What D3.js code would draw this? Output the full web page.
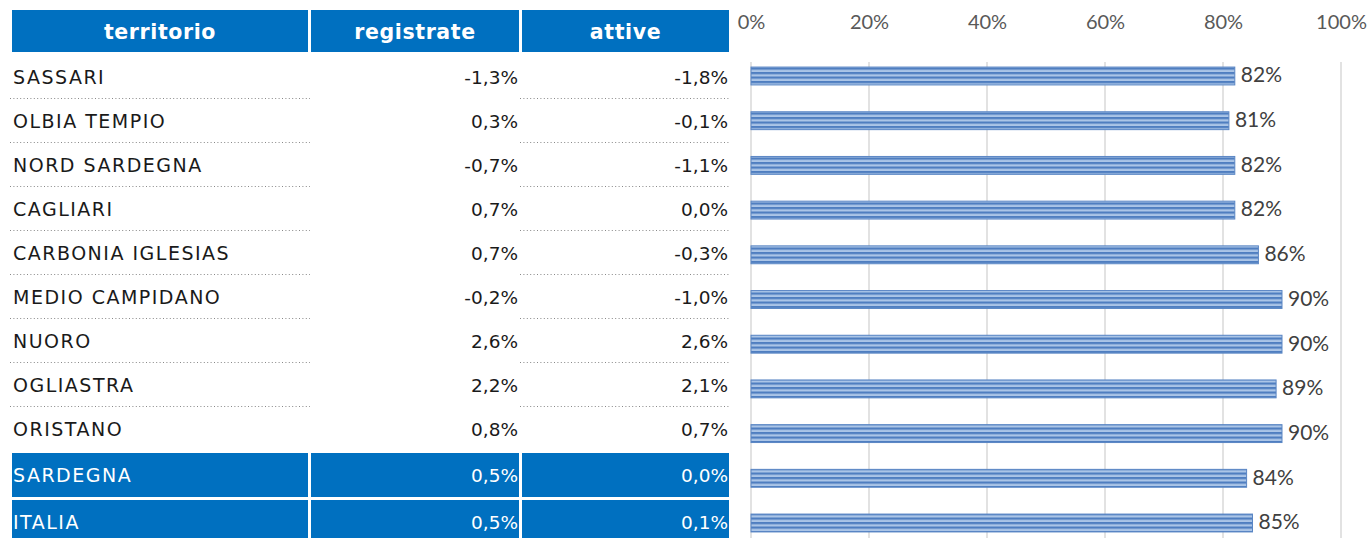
<!DOCTYPE html>
<html><head><meta charset="utf-8">
<script src="https://cdn.jsdelivr.net/npm/d3@7"></script>
<style>body{margin:0;background:#fff}svg{display:block}</style>
</head><body>
<svg id="c" width="1369" height="538"></svg>
<script>
const territori = ["SASSARI","OLBIA TEMPIO","NORD SARDEGNA","CAGLIARI","CARBONIA IGLESIAS","MEDIO CAMPIDANO","NUORO","OGLIASTRA","ORISTANO","SARDEGNA","ITALIA"];
const registrate = ["-1,3%","0,3%","-0,7%","0,7%","0,7%","-0,2%","2,6%","2,2%","0,8%","0,5%","0,5%"];
const attive = ["-1,8%","-0,1%","-1,1%","0,0%","-0,3%","-1,0%","2,6%","2,1%","0,7%","0,0%","0,1%"];
const quota = [0.82,0.81,0.82,0.82,0.86,0.90,0.90,0.89,0.90,0.84,0.85];
const quotaLabels = ["82%","81%","82%","82%","86%","90%","90%","89%","90%","84%","85%"];
const headers = ["territorio","registrate","attive"];
const highlighted = ["SARDEGNA","ITALIA"];
const ticks = [0,0.2,0.4,0.6,0.8,1.0];

const svg = d3.select("#c");
const blue = "#0070c0";
const tableFont = "'DejaVu Sans', 'Open Sans', sans-serif";
const chartFont = "Lato, 'Liberation Sans', sans-serif";

// table columns
const cols = [{x0:12,x1:308,align:"start"},{x0:311,x1:519,align:"end"},{x0:522,x1:729,align:"end"}];

// header
const hdr = svg.append("g");
cols.forEach((c,i)=>{
  hdr.append("rect").attr("x",c.x0).attr("y",10).attr("width",c.x1-c.x0).attr("height",42).attr("fill",blue);
  hdr.append("text").attr("x",(c.x0+c.x1)/2).attr("y",32).attr("dy","0.35em")
    .attr("text-anchor","middle").attr("fill","#fff").attr("font-family",tableFont)
    .attr("font-weight","700").attr("font-size",20.5).attr("letter-spacing",0.6).text(headers[i]);
});

// row geometry
function rowTop(i){ const n = territori.length - highlighted.length; return i<n ? 55+44*i : 453+47*(i-n); }
const rowH = 44;

const body = svg.append("g");
territori.forEach((t,i)=>{
  const hl = highlighted.includes(t);
  const top = rowTop(i);
  const cy = top + 22.5;
  const vals = [t, registrate[i], attive[i]];
  cols.forEach((c,j)=>{
    if(hl){
      body.append("rect").attr("x",c.x0).attr("y",top).attr("width",c.x1-c.x0).attr("height",rowH).attr("fill",blue);
    }
    body.append("text")
      .attr("x", c.align==="start" ? c.x0+1 : c.x1-1)
      .attr("y", cy).attr("dy","0.35em")
      .attr("text-anchor", c.align)
      .attr("fill", hl ? "#fff" : "#1a1a1a")
      .attr("font-family", tableFont).attr("font-size", j===0 ? 19 : 18.5)
      .attr("letter-spacing", j===0 ? 1.5 : 0)
      .attr("font-weight", 400)
      .text(vals[j]);
  });
  if(!hl && i < territori.length - highlighted.length - 1){
    const ly = top + 43.5;
    [[10,310],[520,729]].forEach(([a,b])=>{
      body.append("line").attr("x1",a).attr("x2",b).attr("y1",ly).attr("y2",ly)
        .attr("stroke","#888").attr("stroke-width",1).attr("stroke-dasharray","1,2.4");
    });
  }
});

// bar chart
const x = d3.scaleLinear().domain([0,1]).range([751,1341]);
const y = d3.scaleBand().domain(territori).range([53.65,545.35]).paddingInner(0.6).paddingOuter(0.3);

const defs = svg.append("defs");
const pat = defs.append("pattern").attr("id","stripes").attr("patternUnits","userSpaceOnUse")
  .attr("width",10).attr("height",4.5);
pat.append("rect").attr("width",10).attr("height",4.5).attr("fill","#abc5e7");
pat.append("rect").attr("y",0).attr("width",10).attr("height",2.2).attr("fill","#4f7ec0");

// gridlines
svg.append("g").selectAll("line").data(ticks).join("line")
  .attr("x1",d=>x(d)).attr("x2",d=>x(d)).attr("y1",62).attr("y2",538)
  .attr("stroke","#d9d9d9").attr("stroke-width",1.5);

// top axis
const ax = svg.append("g").attr("transform","translate(0,22)")
  .call(d3.axisTop(x).tickValues(ticks).tickFormat(d3.format(".0%")).tickSize(0));
ax.select(".domain").remove();
ax.selectAll("text").attr("font-family",chartFont).attr("font-size",20).attr("fill","#595959")
  .attr("dy","0.35em").attr("y",0);

// bars
svg.append("g").selectAll("rect").data(territori).join("rect")
  .attr("x",x(0)).attr("y",d=>y(d)).attr("width",(d,i)=>x(quota[i])-x(0)).attr("height",y.bandwidth())
  .attr("fill","url(#stripes)").attr("stroke","#5a86c4").attr("stroke-width",1);

svg.append("g").selectAll("text").data(territori).join("text")
  .attr("x",(d,i)=>x(quota[i])+6).attr("y",d=>y(d)+y.bandwidth()/2).attr("dy","0.3em")
  .attr("font-family",chartFont).attr("font-size",21).attr("fill","#404040")
  .text((d,i)=>quotaLabels[i]);
</script>
</body></html>
